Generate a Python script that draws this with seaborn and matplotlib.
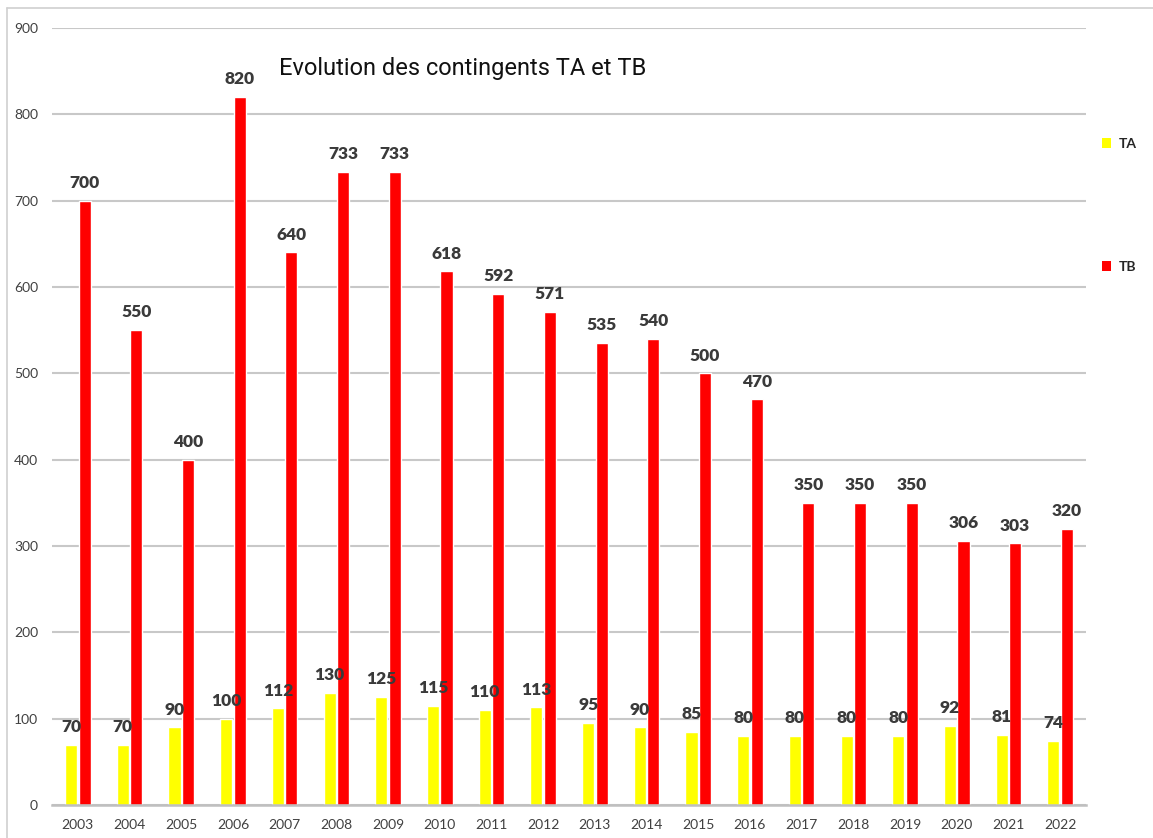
import pandas as pd
import seaborn as sns
import matplotlib.pyplot as plt
from matplotlib.lines import Line2D
from matplotlib.patches import Patch

# Values
years = [str(y) for y in range(2003, 2023)]
ta = [70, 70, 90, 100, 112, 130, 125, 115, 110, 113, 95, 90, 85, 80, 80, 80, 80, 92, 81, 74]
tb = [700, 550, 400, 820, 640, 733, 733, 618, 592, 571, 535, 540, 500, 470, 350, 350, 350, 306, 303, 320]
series = ['TA', 'TB']
colors = {'TA': '#ffff00', 'TB': '#ff0000'}

data = pd.DataFrame({'annee': years * 2,
                     'serie': ['TA'] * len(ta) + ['TB'] * len(tb),
                     'valeur': ta + tb})

sns.set_style('white')
plt.rcParams['font.family'] = ['Lato', 'DejaVu Sans']

fig = plt.figure(figsize=(11.53, 8.38), dpi=100)
ax = fig.add_axes([52 / 1153, 1 - 805 / 838, (1086 - 52) / 1153, (805 - 28) / 838])

sns.barplot(data=data, x='annee', y='valeur', hue='serie', palette=colors,
            width=0.52, gap=0.1, ax=ax, legend=False, saturation=1)

for cont in ax.containers:
    ax.bar_label(cont, padding=7, fontsize=12.5, fontweight='heavy', color='#3a3a3a')

ax.set_ylim(0, 900)
ax.set_xlim(-0.5, len(years) - 0.5)
ax.set_yticks(range(0, 901, 100))
ax.yaxis.grid(True, color='#c8c8c8', linewidth=1.5)
ax.set_axisbelow(True)
ax.set_xlabel('')
ax.set_ylabel('')
for s in ['left', 'right', 'top']:
    ax.spines[s].set_visible(False)
ax.spines['bottom'].set_color('#bfbfbf')
ax.spines['bottom'].set_linewidth(1.8)
ax.tick_params(axis='both', length=0, labelsize=10, labelcolor='#404040')
ax.tick_params(axis='y', pad=10)
ax.tick_params(axis='x', pad=10)

# legend on the right, entries far apart
handles = [Patch(facecolor=colors[s], edgecolor='none') for s in series]
leg = ax.legend(handles, series, loc='upper left', bbox_to_anchor=(1.003, 0.875),
                frameon=False, labelspacing=8.0, handlelength=0.7, handleheight=0.7,
                handletextpad=0.5, prop={'weight': 'bold', 'size': 10})

fig.text(463 / 1153, 1 - 68 / 838, 'Evolution des contingents TA et TB',
         ha='center', va='center', fontsize=17, family='Roboto', color='#111111')

# thin outer border (left and top)
fig.add_artist(Line2D([7 / 1153, 7 / 1153], [0, 1 - 8 / 838], color='#d0d0d0', lw=1.2))
fig.add_artist(Line2D([7 / 1153, 1], [1 - 8 / 838, 1 - 8 / 838], color='#d0d0d0', lw=1.2))

fig.savefig('out.png', dpi=100)
